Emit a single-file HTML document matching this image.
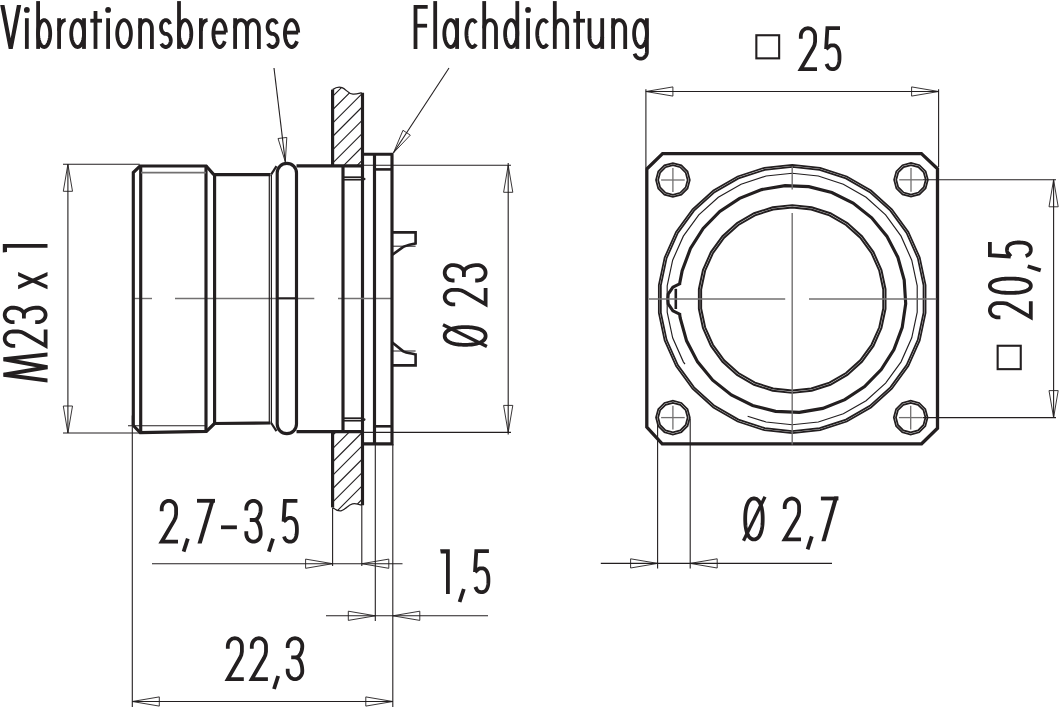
<!DOCTYPE html>
<html><head><meta charset="utf-8"><title>drawing</title>
<style>html,body{margin:0;padding:0;background:#fff;}body{width:1059px;height:707px;overflow:hidden;font-family:"Liberation Sans",sans-serif;}svg{display:block;}</style>
</head><body>
<svg width="1059" height="707" viewBox="0 0 1059 707" role="img" aria-labelledby="t d">
<title id="t">Technical drawing: M23 panel-mount connector</title>
<desc id="d">Vibrationsbremse; Flachdichtung; M23 x 1; Ø 23; 2,7-3,5; 1,5; 22,3; □ 25; □ 20,5; Ø 2,7</desc>
<rect width="1059" height="707" fill="#fff"/>
<defs><clipPath id="pt"><path d="M332.6,89.6 C336,87.2 339,86.6 342,87.6 C346,89 348,93.8 353,94.2 C357,94.4 359.5,93.2 361.6,92.7 L361.6,165.5 L332.6,165.5 Z"/></clipPath><clipPath id="pb"><path d="M332.6,431.8 L361.6,431.8 L361.6,505.2 C359,504.2 356,503 352.5,503.8 C348,504.8 345,510.2 341,510.8 C337.5,511.2 335,509.5 332.6,507.4 Z"/></clipPath></defs>
<g clip-path="url(#pt)"><path d="M320,42.3 L375,-12.7 M320,55.65 L375,0.65 M320,69 L375,14 M320,82.35 L375,27.35 M320,95.7 L375,40.7 M320,109.05 L375,54.05 M320,122.4 L375,67.4 M320,135.75 L375,80.75 M320,149.1 L375,94.1 M320,162.45 L375,107.45 M320,175.8 L375,120.8 M320,189.15 L375,134.15 M320,202.5 L375,147.5 M320,215.85 L375,160.85 M320,229.2 L375,174.2 M320,242.55 L375,187.55 M320,255.9 L375,200.9 M320,269.25 L375,214.25 M320,282.6 L375,227.6 M320,295.95 L375,240.95 M320,309.3 L375,254.3 M320,322.65 L375,267.65 M320,336 L375,281 M320,349.35 L375,294.35 M320,362.7 L375,307.7 M320,376.05 L375,321.05 M320,389.4 L375,334.4 M320,402.75 L375,347.75 M320,416.1 L375,361.1 M320,429.45 L375,374.45 M320,442.8 L375,387.8 M320,456.15 L375,401.15 M320,469.5 L375,414.5 M320,482.85 L375,427.85 M320,496.2 L375,441.2 M320,509.55 L375,454.55 M320,522.9 L375,467.9 M320,536.25 L375,481.25 M320,549.6 L375,494.6 M320,562.95 L375,507.95 M320,576.3 L375,521.3 M320,589.65 L375,534.65 M320,603 L375,548 M320,616.35 L375,561.35 M320,629.7 L375,574.7 M320,643.05 L375,588.05" stroke="#231f20" stroke-width="1.1" fill="none"/></g>
<g clip-path="url(#pb)"><path d="M320,60.8 L375,5.8 M320,74.15 L375,19.15 M320,87.5 L375,32.5 M320,100.85 L375,45.85 M320,114.2 L375,59.2 M320,127.55 L375,72.55 M320,140.9 L375,85.9 M320,154.25 L375,99.25 M320,167.6 L375,112.6 M320,180.95 L375,125.95 M320,194.3 L375,139.3 M320,207.65 L375,152.65 M320,221 L375,166 M320,234.35 L375,179.35 M320,247.7 L375,192.7 M320,261.05 L375,206.05 M320,274.4 L375,219.4 M320,287.75 L375,232.75 M320,301.1 L375,246.1 M320,314.45 L375,259.45 M320,327.8 L375,272.8 M320,341.15 L375,286.15 M320,354.5 L375,299.5 M320,367.85 L375,312.85 M320,381.2 L375,326.2 M320,394.55 L375,339.55 M320,407.9 L375,352.9 M320,421.25 L375,366.25 M320,434.6 L375,379.6 M320,447.95 L375,392.95 M320,461.3 L375,406.3 M320,474.65 L375,419.65 M320,488 L375,433 M320,501.35 L375,446.35 M320,514.7 L375,459.7 M320,528.05 L375,473.05 M320,541.4 L375,486.4 M320,554.75 L375,499.75 M320,568.1 L375,513.1 M320,581.45 L375,526.45 M320,594.8 L375,539.8 M320,608.15 L375,553.15 M320,621.5 L375,566.5 M320,634.85 L375,579.85 M320,648.2 L375,593.2 M320,661.55 L375,606.55 M320,674.9 L375,619.9 M320,688.25 L375,633.25 M320,701.6 L375,646.6 M320,714.95 L375,659.95 M320,728.3 L375,673.3 M320,741.65 L375,686.65 M320,755 L375,700 M320,768.35 L375,713.35 M320,781.7 L375,726.7 M320,795.05 L375,740.05 M320,808.4 L375,753.4 M320,821.75 L375,766.75 M320,835.1 L375,780.1 M320,848.45 L375,793.45" stroke="#231f20" stroke-width="1.1" fill="none"/></g>
<path d="M332.6,89.6 C336,87.2 339,86.6 342,87.6 C346,89 348,93.8 353,94.2 C357,94.4 359.5,93.2 361.6,92.7" stroke="#231f20" stroke-width="1.3" fill="none"/>
<path d="M332.6,507.4 C335,509.5 337.5,511.2 341,510.8 C345,510.2 348,504.8 352.5,503.8 C356,503 359,504.2 361.6,505.2" stroke="#231f20" stroke-width="1.3" fill="none"/>
<line x1="332.6" y1="89.6" x2="332.6" y2="165.5" stroke="#231f20" stroke-width="3.15"/>
<line x1="332.6" y1="431.8" x2="332.6" y2="507.4" stroke="#231f20" stroke-width="3.15"/>
<line x1="362.5" y1="92.7" x2="362.5" y2="505.2" stroke="#231f20" stroke-width="3.15"/>
<line x1="133" y1="298.5" x2="152" y2="298.5" stroke="#727070" stroke-width="1.4"/>
<line x1="175" y1="298.5" x2="314.3" y2="298.5" stroke="#727070" stroke-width="1.4"/>
<line x1="338" y1="298.5" x2="391" y2="298.5" stroke="#727070" stroke-width="1.4"/>
<path d="M133.3,425.5 L133.3,172.5 L140,166 L206.2,166 L213.8,174.6" stroke="#231f20" stroke-width="3.15" fill="none"/>
<path d="M133.3,425.5 L140.2,432.6 L206.4,431.4 L214.5,423.5" stroke="#231f20" stroke-width="3.15" fill="none"/>
<line x1="140.7" y1="165.6" x2="140.7" y2="432.4" stroke="#231f20" stroke-width="3.15"/>
<line x1="206" y1="165.6" x2="206" y2="431.4" stroke="#231f20" stroke-width="3.15"/>
<line x1="141" y1="172.7" x2="206" y2="172.7" stroke="#727070" stroke-width="1.8"/>
<line x1="128" y1="425.8" x2="206" y2="425.8" stroke="#231f20" stroke-width="1.1"/>
<line x1="214.6" y1="174.4" x2="214.6" y2="423.5" stroke="#231f20" stroke-width="3.15"/>
<line x1="213.5" y1="174.6" x2="270.5" y2="174.6" stroke="#231f20" stroke-width="3.15"/>
<line x1="213.5" y1="423.5" x2="270.5" y2="423" stroke="#231f20" stroke-width="3.15"/>
<line x1="269.3" y1="174.4" x2="269.3" y2="423.2" stroke="#231f20" stroke-width="1.2"/>
<line x1="271.4" y1="174.4" x2="271.4" y2="423.2" stroke="#231f20" stroke-width="1.2"/>
<path d="M271.2,174.4 L276.5,166.2" stroke="#231f20" stroke-width="2.2" fill="none"/>
<path d="M271.2,423.0 L276.5,431.2" stroke="#231f20" stroke-width="2.2" fill="none"/>
<path d="M277.2,424 L277.2,173 A9.65,9.65 0 0 1 296.5,173 L296.5,424 A9.65,9.65 0 0 1 277.2,424 Z" stroke="#231f20" stroke-width="3.15" fill="none"/>
<line x1="277.2" y1="298.3" x2="296.5" y2="298.3" stroke="#231f20" stroke-width="2"/>
<line x1="296.5" y1="165.9" x2="363" y2="165.9" stroke="#231f20" stroke-width="3.15"/>
<line x1="296.5" y1="431.6" x2="363" y2="431.6" stroke="#231f20" stroke-width="3.15"/>
<line x1="343" y1="165.6" x2="343" y2="431.6" stroke="#231f20" stroke-width="3.15"/>
<line x1="343" y1="177.2" x2="362.5" y2="177.2" stroke="#231f20" stroke-width="1.7"/>
<line x1="343" y1="179.7" x2="362.5" y2="179.7" stroke="#231f20" stroke-width="1.7"/>
<line x1="343" y1="418.2" x2="362.5" y2="418.2" stroke="#231f20" stroke-width="1.7"/>
<line x1="343" y1="420.7" x2="362.5" y2="420.7" stroke="#231f20" stroke-width="1.7"/>
<circle cx="364.2" cy="179" r="1.3" stroke="#231f20" stroke-width="0" fill="#231f20"/>
<circle cx="364.2" cy="419.6" r="1.3" stroke="#231f20" stroke-width="0" fill="#231f20"/>
<path d="M363.5,154.2 L392,154.2 L392,443.8 L363.5,443.8" stroke="#231f20" stroke-width="3.15" fill="none"/>
<line x1="374.5" y1="154.2" x2="374.5" y2="443.8" stroke="#231f20" stroke-width="3.15"/>
<line x1="374.5" y1="169.4" x2="392" y2="169.4" stroke="#231f20" stroke-width="2.6"/>
<line x1="374.5" y1="426.3" x2="392" y2="426.3" stroke="#231f20" stroke-width="2.6"/>
<path d="M392,232.4 L415.6,232.4 L415.6,243.5 C410,244.8 406,245.5 402.9,247.2 L392,255" stroke="#231f20" stroke-width="2.6" fill="none"/>
<line x1="392" y1="246.2" x2="415.6" y2="246.2" stroke="#231f20" stroke-width="1"/>
<path d="M392,365.4 L415.6,365.4 L415.6,354.4 C410,353.2 406,352.8 403.3,351.3 L392,342.3" stroke="#231f20" stroke-width="2.6" fill="none"/>
<line x1="392" y1="351" x2="415.6" y2="351" stroke="#231f20" stroke-width="1"/>
<line x1="63" y1="164.3" x2="139.7" y2="164.3" stroke="#231f20" stroke-width="1.1"/>
<line x1="63" y1="433" x2="139.5" y2="433" stroke="#231f20" stroke-width="1.1"/>
<line x1="67.9" y1="164.3" x2="67.9" y2="433" stroke="#231f20" stroke-width="1.1"/>
<path d="M67.9,164.3 L72.5,191.3 L63.3,191.3Z" stroke="#231f20" stroke-width="0.9" fill="none" stroke-linejoin="miter"/>
<path d="M67.9,433 L63.3,406 L72.5,406Z" stroke="#231f20" stroke-width="0.9" fill="none" stroke-linejoin="miter"/>
<line x1="363" y1="165.3" x2="511" y2="165.3" stroke="#231f20" stroke-width="1.1"/>
<line x1="363" y1="432.4" x2="511" y2="432.4" stroke="#231f20" stroke-width="1.1"/>
<line x1="508.2" y1="163" x2="508.2" y2="434.5" stroke="#231f20" stroke-width="1.1"/>
<path d="M508.2,165.3 L512.8,192.3 L503.6,192.3Z" stroke="#231f20" stroke-width="0.9" fill="none" stroke-linejoin="miter"/>
<path d="M508.2,432.4 L503.6,405.4 L512.8,405.4Z" stroke="#231f20" stroke-width="0.9" fill="none" stroke-linejoin="miter"/>
<line x1="132.3" y1="415.5" x2="132.3" y2="707" stroke="#231f20" stroke-width="1.1"/>
<line x1="332.6" y1="508" x2="332.6" y2="566" stroke="#231f20" stroke-width="1.1"/>
<line x1="361.8" y1="505" x2="361.8" y2="566" stroke="#231f20" stroke-width="1.1"/>
<line x1="375.3" y1="444" x2="375.3" y2="621" stroke="#231f20" stroke-width="1.1"/>
<line x1="392.8" y1="444" x2="392.8" y2="707" stroke="#231f20" stroke-width="1.1"/>
<line x1="152" y1="563.7" x2="402.5" y2="563.7" stroke="#231f20" stroke-width="1.1"/>
<path d="M332.6,563.7 L305.6,568.3 L305.6,559.1Z" stroke="#231f20" stroke-width="0.9" fill="none" stroke-linejoin="miter"/>
<path d="M361.8,563.7 L388.8,559.1 L388.8,568.3Z" stroke="#231f20" stroke-width="0.9" fill="none" stroke-linejoin="miter"/>
<line x1="326" y1="615.8" x2="488" y2="615.8" stroke="#231f20" stroke-width="1.1"/>
<path d="M375.3,615.8 L348.3,620.4 L348.3,611.2Z" stroke="#231f20" stroke-width="0.9" fill="none" stroke-linejoin="miter"/>
<path d="M392.8,615.8 L419.8,611.2 L419.8,620.4Z" stroke="#231f20" stroke-width="0.9" fill="none" stroke-linejoin="miter"/>
<line x1="132.3" y1="701.5" x2="392.8" y2="701.5" stroke="#231f20" stroke-width="1.1"/>
<path d="M132.3,701.5 L159.3,696.9 L159.3,706.1Z" stroke="#231f20" stroke-width="0.9" fill="none" stroke-linejoin="miter"/>
<path d="M392.8,701.5 L365.8,706.1 L365.8,696.9Z" stroke="#231f20" stroke-width="0.9" fill="none" stroke-linejoin="miter"/>
<line x1="274" y1="68" x2="285.3" y2="161.8" stroke="#231f20" stroke-width="1.1"/>
<path d="M285.3,161.8 L278.06,138.5 L286.8,137.45Z" stroke="#231f20" stroke-width="0.9" fill="none" stroke-linejoin="miter"/>
<line x1="449" y1="68" x2="393.5" y2="152.8" stroke="#231f20" stroke-width="1.1"/>
<path d="M393.5,152.8 L402.96,130.31 L410.32,135.13Z" stroke="#231f20" stroke-width="0.9" fill="none" stroke-linejoin="miter"/>
<path d="M646.8,169 L662.6,153.6 L921.4,153.6 L937.5,168.7 L937.5,428.2 L921.6,443.8 L662.2,443.8 L646.8,427.2 Z" stroke="#231f20" stroke-width="3.3" fill="none"/>
<path d="M792.2,164.9 L820.08,167.83 L846.74,176.49 L871.02,190.51 L891.86,209.27 L908.33,231.95 L919.74,257.56 L925.57,284.98 L925.57,313.02 L919.74,340.44 L908.33,366.05 L891.86,388.73 L871.02,407.49 L846.74,421.51 L820.08,430.17 L792.2,433.1 L764.32,430.17 L737.66,421.51 L713.38,407.49 L692.54,388.73 L676.07,366.05 L664.66,340.44 L658.83,313.02 L658.83,284.98 L664.66,257.56 L676.07,231.95 L692.54,209.27 L713.38,190.51 L737.66,176.49 L764.32,167.83Z" stroke="#231f20" stroke-width="1.75" fill="none"/>
<path d="M792.2,166.95 L819.65,169.84 L845.91,178.37 L869.82,192.17 L890.33,210.64 L906.56,232.98 L917.79,258.19 L923.53,285.2 L923.53,312.8 L917.79,339.81 L906.56,365.02 L890.33,387.36 L869.82,405.83 L845.91,419.63 L819.65,428.16 L792.2,431.05 L764.75,428.16 L738.49,419.63 L714.58,405.83 L694.07,387.36 L677.84,365.02 L666.61,339.81 L660.87,312.8 L660.87,285.2 L666.61,258.19 L677.84,232.97 L694.07,210.64 L714.58,192.17 L738.49,178.37 L764.75,169.84Z" stroke="#231f20" stroke-width="1.75" fill="none"/>
<path d="M684.97,364.2 L683.34,361.85 L672.65,337.84 L667.19,312.14 L667.19,285.86 L672.65,260.16 L683.34,236.15 L698.79,214.89 L718.32,197.31 L741.07,184.17 L766.07,176.05 L792.2,173.3 L818.33,176.05 L843.33,184.17 L866.08,197.31 L885.61,214.89 L901.06,236.15 L911.75,260.16 L917.21,285.86 L917.21,312.14 L911.75,337.84 L901.06,361.85 L885.61,383.11 L866.08,400.69 L843.33,413.83 L818.33,421.95 L792.2,424.7 L766.07,421.95 L747.63,416.32" stroke="#231f20" stroke-width="1.15" fill="none"/>
<path d="M679.71,283.19 L682.17,270.75 L690.45,248.49 L703.17,228.44 L719.79,211.47 L739.57,198.33 L761.65,189.58 L785.07,185.62 L808.8,186.62 L831.8,192.52 L853.07,203.08 L871.68,217.84 L886.82,236.13 L897.82,257.18 L904.21,280.06 L905.7,303.76 L902.23,327.25 L893.95,349.51 L881.23,369.56 L864.61,386.53 L844.83,399.67 L822.75,408.42 L799.33,412.38 L775.6,411.38 L752.6,405.48 L731.33,394.92 L712.72,380.16 L697.58,361.87 L686.58,340.82 L680.19,317.94 L679.71,314.81 L679.7,314.2 L672.9,310.8 L668.2,304 L667.8,299 L668.2,294 L672.9,287.2 L679.7,283.8Z" stroke="#231f20" stroke-width="3.15" fill="none"/>
<line x1="675.8" y1="288.8" x2="675.8" y2="309" stroke="#231f20" stroke-width="2.6"/>
<path d="M792.2,205.15 L811.71,207.2 L830.37,213.26 L847.36,223.07 L861.94,236.2 L873.48,252.08 L881.46,270 L885.54,289.19 L885.54,308.81 L881.46,328 L873.48,345.93 L861.94,361.8 L847.36,374.93 L830.37,384.74 L811.71,390.8 L792.2,392.85 L772.69,390.8 L754.03,384.74 L737.04,374.93 L722.46,361.8 L710.92,345.93 L702.94,328 L698.86,308.81 L698.86,289.19 L702.94,270 L710.92,252.07 L722.46,236.2 L737.04,223.07 L754.03,213.26 L772.69,207.2Z" stroke="#231f20" stroke-width="1.95" fill="none"/>
<path d="M792.2,207.45 L811.23,209.45 L829.44,215.36 L846.01,224.93 L860.23,237.74 L871.48,253.23 L879.27,270.71 L883.25,289.43 L883.25,308.57 L879.27,327.29 L871.48,344.77 L860.23,360.26 L846.01,373.07 L829.44,382.64 L811.23,388.55 L792.2,390.55 L773.17,388.55 L754.96,382.64 L738.39,373.07 L724.17,360.26 L712.92,344.77 L705.13,327.29 L701.15,308.57 L701.15,289.43 L705.13,270.71 L712.92,253.22 L724.17,237.74 L738.39,224.93 L754.96,215.36 L773.17,209.45Z" stroke="#231f20" stroke-width="1.95" fill="none"/>
<path d="M689.8,180 L687.54,188.45 L681.35,194.64 L672.9,196.9 L664.45,194.64 L658.26,188.45 L656,180 L658.26,171.55 L664.45,165.36 L672.9,163.1 L681.35,165.36 L687.54,171.55Z" stroke="#231f20" stroke-width="1.75" fill="none"/>
<path d="M687.65,180 L685.67,187.38 L680.27,192.77 L672.9,194.75 L665.52,192.77 L660.13,187.38 L658.15,180 L660.13,172.62 L665.52,167.23 L672.9,165.25 L680.27,167.23 L685.67,172.62Z" stroke="#231f20" stroke-width="1.75" fill="none"/>
<line x1="661.1" y1="180" x2="684.7" y2="180" stroke="#727070" stroke-width="1.3"/>
<line x1="672.9" y1="168.1" x2="672.9" y2="191.9" stroke="#727070" stroke-width="1.3"/>
<path d="M927.9,179.8 L925.64,188.25 L919.45,194.44 L911,196.7 L902.55,194.44 L896.36,188.25 L894.1,179.8 L896.36,171.35 L902.55,165.16 L911,162.9 L919.45,165.16 L925.64,171.35Z" stroke="#231f20" stroke-width="1.75" fill="none"/>
<path d="M925.75,179.8 L923.77,187.18 L918.38,192.57 L911,194.55 L903.62,192.57 L898.23,187.18 L896.25,179.8 L898.23,172.43 L903.62,167.03 L911,165.05 L918.38,167.03 L923.77,172.43Z" stroke="#231f20" stroke-width="1.75" fill="none"/>
<line x1="899.2" y1="179.8" x2="922.8" y2="179.8" stroke="#727070" stroke-width="1.3"/>
<line x1="911" y1="167.9" x2="911" y2="191.7" stroke="#727070" stroke-width="1.3"/>
<path d="M689.8,417.6 L687.54,426.05 L681.35,432.24 L672.9,434.5 L664.45,432.24 L658.26,426.05 L656,417.6 L658.26,409.15 L664.45,402.96 L672.9,400.7 L681.35,402.96 L687.54,409.15Z" stroke="#231f20" stroke-width="1.75" fill="none"/>
<path d="M687.65,417.6 L685.67,424.98 L680.27,430.37 L672.9,432.35 L665.52,430.37 L660.13,424.98 L658.15,417.6 L660.13,410.23 L665.52,404.83 L672.9,402.85 L680.27,404.83 L685.67,410.23Z" stroke="#231f20" stroke-width="1.75" fill="none"/>
<line x1="661.1" y1="417.6" x2="684.7" y2="417.6" stroke="#727070" stroke-width="1.3"/>
<line x1="672.9" y1="405.7" x2="672.9" y2="429.5" stroke="#727070" stroke-width="1.3"/>
<path d="M927.6,417.6 L925.34,426.05 L919.15,432.24 L910.7,434.5 L902.25,432.24 L896.06,426.05 L893.8,417.6 L896.06,409.15 L902.25,402.96 L910.7,400.7 L919.15,402.96 L925.34,409.15Z" stroke="#231f20" stroke-width="1.75" fill="none"/>
<path d="M925.45,417.6 L923.47,424.98 L918.08,430.37 L910.7,432.35 L903.33,430.37 L897.93,424.98 L895.95,417.6 L897.93,410.23 L903.33,404.83 L910.7,402.85 L918.08,404.83 L923.47,410.23Z" stroke="#231f20" stroke-width="1.75" fill="none"/>
<line x1="898.9" y1="417.6" x2="922.5" y2="417.6" stroke="#727070" stroke-width="1.3"/>
<line x1="910.7" y1="405.7" x2="910.7" y2="429.5" stroke="#727070" stroke-width="1.3"/>
<line x1="649" y1="299" x2="785.2" y2="299" stroke="#727070" stroke-width="1.4"/>
<line x1="809" y1="299" x2="936.4" y2="299" stroke="#727070" stroke-width="1.4"/>
<line x1="792.2" y1="166.3" x2="792.2" y2="189.6" stroke="#727070" stroke-width="1.4"/>
<line x1="792.2" y1="212.9" x2="792.2" y2="444.4" stroke="#727070" stroke-width="1.4"/>
<line x1="645.9" y1="89.3" x2="645.9" y2="168" stroke="#231f20" stroke-width="1.1"/>
<line x1="938.6" y1="89.3" x2="938.6" y2="167" stroke="#231f20" stroke-width="1.1"/>
<line x1="645.9" y1="91.5" x2="938.6" y2="91.5" stroke="#231f20" stroke-width="1.1"/>
<path d="M645.9,91.5 L672.9,86.9 L672.9,96.1Z" stroke="#231f20" stroke-width="0.9" fill="none" stroke-linejoin="miter"/>
<path d="M938.6,91.5 L911.6,96.1 L911.6,86.9Z" stroke="#231f20" stroke-width="0.9" fill="none" stroke-linejoin="miter"/>
<line x1="922.8" y1="179.8" x2="1056" y2="179.8" stroke="#231f20" stroke-width="1.1"/>
<line x1="922.7" y1="417.6" x2="1056" y2="417.6" stroke="#231f20" stroke-width="1.1"/>
<line x1="1053.6" y1="179.8" x2="1053.6" y2="417.6" stroke="#231f20" stroke-width="1.1"/>
<path d="M1053.6,179.8 L1058.2,206.8 L1049,206.8Z" stroke="#231f20" stroke-width="0.9" fill="none" stroke-linejoin="miter"/>
<path d="M1053.6,417.6 L1049,390.6 L1058.2,390.6Z" stroke="#231f20" stroke-width="0.9" fill="none" stroke-linejoin="miter"/>
<line x1="657.6" y1="422" x2="657.6" y2="568.5" stroke="#231f20" stroke-width="1.1"/>
<line x1="690.2" y1="418.5" x2="690.2" y2="568.5" stroke="#231f20" stroke-width="1.1"/>
<line x1="600.8" y1="563.4" x2="832" y2="563.4" stroke="#231f20" stroke-width="1.1"/>
<path d="M657.6,563.4 L630.6,568 L630.6,558.8Z" stroke="#231f20" stroke-width="0.9" fill="none" stroke-linejoin="miter"/>
<path d="M690.2,563.4 L717.2,558.8 L717.2,568Z" stroke="#231f20" stroke-width="0.9" fill="none" stroke-linejoin="miter"/>
<g transform="translate(0,48.9)" fill="none" stroke="#231f20" stroke-width="3.8" stroke-linecap="butt" stroke-linejoin="miter" stroke-miterlimit="6"><path d="M26.85,-30.7 L26.85,0"/><path d="M38.1,-47.8 L38.1,0"/><path d="M50.2,-15.35 L50.17,-13.94 L50.07,-12.55 L49.9,-11.19 L49.68,-9.88 L49.39,-8.62 L49.04,-7.44 L48.65,-6.35 L48.2,-5.35 L47.71,-4.47 L47.18,-3.7 L46.61,-3.06 L46.02,-2.56 L45.41,-2.19 L44.78,-1.97 L44.15,-1.9 L43.52,-1.97 L42.89,-2.19 L42.28,-2.56 L41.69,-3.06 L41.13,-3.7 L40.59,-4.47 L40.1,-5.35 L39.65,-6.35 L39.26,-7.44 L38.91,-8.62 L38.62,-9.88 L38.4,-11.19 L38.23,-12.55 L38.13,-13.94 L38.1,-15.35 L38.13,-16.76 L38.23,-18.15 L38.4,-19.51 L38.62,-20.82 L38.91,-22.08 L39.26,-23.26 L39.65,-24.35 L40.1,-25.35 L40.59,-26.23 L41.12,-27 L41.69,-27.64 L42.28,-28.14 L42.89,-28.51 L43.52,-28.73 L44.15,-28.8 L44.78,-28.73 L45.41,-28.51 L46.02,-28.14 L46.61,-27.64 L47.18,-27 L47.71,-26.23 L48.2,-25.35 L48.65,-24.35 L49.04,-23.26 L49.39,-22.08 L49.68,-20.82 L49.9,-19.51 L50.07,-18.15 L50.17,-16.76 L50.2,-15.35Z"/><path d="M59.1,-30.7 L59.1,0"/><path d="M59.1,-18 L59.12,-18.85 L59.18,-19.69 L59.28,-20.52 L59.42,-21.34 L59.6,-22.13 L59.82,-22.9 L60.07,-23.64 L60.36,-24.35 L60.68,-25.01 L61.03,-25.64 L61.41,-26.21 L61.82,-26.74 L62.25,-27.21 L62.7,-27.62 L63.17,-27.98 L63.66,-28.27 L64.16,-28.5 L64.67,-28.67 L65.18,-28.77 L65.7,-28.8"/><path d="M84,-30.7 L84,0"/><path d="M84,-15.35 L83.96,-13.94 L83.86,-12.55 L83.69,-11.19 L83.45,-9.88 L83.14,-8.62 L82.78,-7.44 L82.36,-6.35 L81.88,-5.35 L81.36,-4.47 L80.8,-3.7 L80.2,-3.06 L79.58,-2.56 L78.93,-2.19 L78.27,-1.97 L77.6,-1.9 L76.93,-1.97 L76.27,-2.19 L75.62,-2.56 L75,-3.06 L74.4,-3.7 L73.84,-4.47 L73.32,-5.35 L72.84,-6.35 L72.42,-7.44 L72.06,-8.62 L71.75,-9.88 L71.51,-11.19 L71.34,-12.55 L71.24,-13.94 L71.2,-15.35 L71.24,-16.76 L71.34,-18.15 L71.51,-19.51 L71.75,-20.82 L72.06,-22.08 L72.42,-23.26 L72.84,-24.35 L73.32,-25.35 L73.84,-26.23 L74.4,-27 L75,-27.64 L75.62,-28.14 L76.27,-28.51 L76.93,-28.73 L77.6,-28.8 L78.27,-28.73 L78.93,-28.51 L79.58,-28.14 L80.2,-27.64 L80.8,-27 L81.36,-26.23 L81.88,-25.35 L82.36,-24.35 L82.78,-23.26 L83.14,-22.08 L83.45,-20.82 L83.69,-19.51 L83.86,-18.15 L83.96,-16.76 L84,-15.35Z"/><path d="M95.5,-37.9 L95.5,0"/><path d="M90.3,-28.2 L102,-28.2"/><path d="M108.1,-30.7 L108.1,0"/><path d="M130.9,-15.35 L130.86,-13.94 L130.75,-12.55 L130.56,-11.19 L130.31,-9.88 L129.98,-8.62 L129.59,-7.44 L129.14,-6.35 L128.63,-5.35 L128.08,-4.47 L127.48,-3.7 L126.84,-3.06 L126.17,-2.56 L125.47,-2.19 L124.77,-1.97 L124.05,-1.9 L123.33,-1.97 L122.63,-2.19 L121.93,-2.56 L121.26,-3.06 L120.63,-3.7 L120.02,-4.47 L119.47,-5.35 L118.96,-6.35 L118.51,-7.44 L118.12,-8.62 L117.79,-9.88 L117.54,-11.19 L117.35,-12.55 L117.24,-13.94 L117.2,-15.35 L117.24,-16.76 L117.35,-18.15 L117.54,-19.51 L117.79,-20.82 L118.12,-22.08 L118.51,-23.26 L118.96,-24.35 L119.47,-25.35 L120.02,-26.23 L120.62,-27 L121.26,-27.64 L121.93,-28.14 L122.63,-28.51 L123.33,-28.73 L124.05,-28.8 L124.77,-28.73 L125.47,-28.51 L126.17,-28.14 L126.84,-27.64 L127.48,-27 L128.08,-26.23 L128.63,-25.35 L129.14,-24.35 L129.59,-23.26 L129.98,-22.08 L130.31,-20.82 L130.56,-19.51 L130.75,-18.15 L130.86,-16.76 L130.9,-15.35Z"/><path d="M140.1,-30.7 L140.1,0"/><path d="M140.1,-20.5 L140.13,-21.37 L140.23,-22.23 L140.39,-23.06 L140.61,-23.88 L140.89,-24.65 L141.23,-25.38 L141.62,-26.05 L142.05,-26.67 L142.53,-27.21 L143.05,-27.69 L143.6,-28.08 L144.18,-28.39 L144.77,-28.62 L145.38,-28.75 L146,-28.8 L146.62,-28.75 L147.23,-28.62 L147.82,-28.39 L148.4,-28.08 L148.95,-27.69 L149.47,-27.21 L149.95,-26.67 L150.38,-26.05 L150.77,-25.38 L151.11,-24.65 L151.39,-23.88 L151.61,-23.06 L151.77,-22.23 L151.87,-21.37 L151.9,-20.5 L151.9,0"/><path d="M170.05,-24.82 L169.73,-25.67 L169.32,-26.46 L168.83,-27.15 L168.29,-27.73 L167.69,-28.2 L167.06,-28.53 L166.4,-28.74 L165.72,-28.8 L165.05,-28.72 L164.39,-28.51 L163.76,-28.16 L163.16,-27.69 L162.62,-27.09 L162.15,-26.4 L161.74,-25.61 L161.42,-24.74 L161.19,-23.82 L161.05,-22.86 L161,-21.88 L161.05,-20.9 L161.2,-19.94 L161.43,-19.02 L161.76,-18.16 L162.17,-17.37 L162.64,-16.68 L163.19,-16.09 L163.78,-15.62 L164.41,-15.28 L165.08,-15.07 L165.75,-15 L166.45,-14.94 L167.14,-14.75 L167.8,-14.43 L168.43,-14 L169,-13.47 L169.5,-12.83 L169.94,-12.11 L170.29,-11.32 L170.55,-10.47 L170.72,-9.59 L170.8,-8.68 L170.77,-7.77 L170.65,-6.87 L170.43,-6 L170.12,-5.18 L169.73,-4.42 L169.26,-3.74 L168.72,-3.15 L168.12,-2.67 L167.48,-2.3 L166.8,-2.04 L166.1,-1.92 L165.4,-1.92 L164.7,-2.04 L164.02,-2.3 L163.38,-2.67 L162.78,-3.15 L162.24,-3.74 L161.77,-4.42 L161.38,-5.18"/><path d="M179,-47.8 L179,0"/><path d="M191.3,-15.35 L191.27,-13.94 L191.17,-12.55 L191,-11.19 L190.77,-9.88 L190.48,-8.62 L190.13,-7.44 L189.72,-6.35 L189.27,-5.35 L188.76,-4.47 L188.22,-3.7 L187.65,-3.06 L187.05,-2.56 L186.43,-2.19 L185.79,-1.97 L185.15,-1.9 L184.51,-1.97 L183.87,-2.19 L183.25,-2.56 L182.65,-3.06 L182.07,-3.7 L181.54,-4.47 L181.03,-5.35 L180.58,-6.35 L180.17,-7.44 L179.82,-8.62 L179.53,-9.88 L179.3,-11.19 L179.13,-12.55 L179.03,-13.94 L179,-15.35 L179.03,-16.76 L179.13,-18.15 L179.3,-19.51 L179.53,-20.82 L179.82,-22.08 L180.17,-23.26 L180.58,-24.35 L181.03,-25.35 L181.54,-26.23 L182.07,-27 L182.65,-27.64 L183.25,-28.14 L183.87,-28.51 L184.51,-28.73 L185.15,-28.8 L185.79,-28.73 L186.43,-28.51 L187.05,-28.14 L187.65,-27.64 L188.22,-27 L188.76,-26.23 L189.27,-25.35 L189.72,-24.35 L190.13,-23.26 L190.48,-22.08 L190.77,-20.82 L191,-19.51 L191.17,-18.15 L191.27,-16.76 L191.3,-15.35Z"/><path d="M200.9,-30.7 L200.9,0"/><path d="M200.9,-18 L200.92,-18.85 L200.98,-19.69 L201.09,-20.52 L201.23,-21.34 L201.41,-22.13 L201.63,-22.9 L201.89,-23.64 L202.18,-24.35 L202.51,-25.01 L202.86,-25.64 L203.25,-26.21 L203.66,-26.74 L204.1,-27.21 L204.56,-27.62 L205.04,-27.98 L205.53,-28.27 L206.04,-28.5 L206.55,-28.67 L207.07,-28.77 L207.6,-28.8"/><path d="M225.88,-16.3 L225.81,-17.64 L225.67,-18.95 L225.48,-20.22 L225.22,-21.45 L224.91,-22.62 L224.55,-23.71 L224.13,-24.72 L223.68,-25.64 L223.18,-26.45 L222.65,-27.15 L222.08,-27.74 L221.5,-28.2 L220.89,-28.53 L220.27,-28.73 L219.65,-28.8 L219.02,-28.73 L218.41,-28.53 L217.8,-28.2 L217.21,-27.74 L216.65,-27.15 L216.12,-26.45 L215.62,-25.63 L215.16,-24.72 L214.75,-23.7 L214.39,-22.61 L214.08,-21.44 L213.82,-20.22 L213.63,-18.94 L213.49,-17.63 L213.42,-16.29 L213.4,-14.95 L213.45,-13.61 L213.56,-12.28 L213.74,-10.99 L213.97,-9.74 L214.26,-8.55 L214.6,-7.42 L214.99,-6.38 L215.43,-5.42 L215.91,-4.57 L216.43,-3.82 L216.99,-3.18 L217.56,-2.67 L218.16,-2.29 L218.78,-2.03 L219.4,-1.91 L220.02,-1.92 L220.64,-2.07 L221.26,-2.35 L221.85,-2.76 L222.42,-3.3 L222.97,-3.95 L223.48,-4.72 L223.96,-5.6 L224.39,-6.57 L224.77,-7.64"/><path d="M213.4,-16.3 L225.88,-16.3"/><path d="M235.1,-30.7 L235.1,0"/><path d="M235.1,-20.5 L235.13,-21.37 L235.23,-22.23 L235.39,-23.06 L235.61,-23.88 L235.9,-24.65 L236.24,-25.38 L236.63,-26.05 L237.07,-26.67 L237.55,-27.21 L238.08,-27.69 L238.63,-28.08 L239.21,-28.39 L239.81,-28.62 L240.43,-28.75 L241.05,-28.8 L241.67,-28.75 L242.29,-28.62 L242.89,-28.39 L243.47,-28.08 L244.03,-27.69 L244.55,-27.21 L245.03,-26.67 L245.47,-26.05 L245.86,-25.38 L246.2,-24.65 L246.49,-23.88 L246.71,-23.06 L246.87,-22.23 L246.97,-21.37 L247,-20.5 L247,0"/><path d="M247,-20.5 L247.03,-21.37 L247.13,-22.23 L247.29,-23.06 L247.51,-23.88 L247.8,-24.65 L248.14,-25.38 L248.53,-26.05 L248.97,-26.67 L249.45,-27.21 L249.97,-27.69 L250.53,-28.08 L251.11,-28.39 L251.71,-28.62 L252.33,-28.75 L252.95,-28.8 L253.57,-28.75 L254.19,-28.62 L254.79,-28.39 L255.37,-28.08 L255.93,-27.69 L256.45,-27.21 L256.93,-26.67 L257.37,-26.05 L257.76,-25.38 L258.1,-24.65 L258.39,-23.88 L258.61,-23.06 L258.77,-22.23 L258.87,-21.37 L258.9,-20.5 L258.9,0"/><path d="M276.94,-24.82 L276.6,-25.67 L276.18,-26.46 L275.68,-27.15 L275.12,-27.73 L274.51,-28.2 L273.85,-28.53 L273.17,-28.74 L272.47,-28.8 L271.78,-28.72 L271.09,-28.51 L270.44,-28.16 L269.83,-27.69 L269.27,-27.09 L268.78,-26.4 L268.37,-25.61 L268.04,-24.74 L267.79,-23.82 L267.65,-22.86 L267.6,-21.88 L267.65,-20.9 L267.8,-19.94 L268.05,-19.02 L268.38,-18.16 L268.8,-17.37 L269.3,-16.68 L269.86,-16.09 L270.47,-15.62 L271.12,-15.28 L271.8,-15.07 L272.5,-15 L273.22,-14.94 L273.93,-14.75 L274.62,-14.43 L275.26,-14 L275.84,-13.47 L276.36,-12.83 L276.81,-12.11 L277.17,-11.32 L277.45,-10.47 L277.62,-9.59 L277.7,-8.68 L277.67,-7.77 L277.55,-6.87 L277.32,-6 L277,-5.18 L276.6,-4.42 L276.11,-3.74 L275.56,-3.15 L274.94,-2.67 L274.28,-2.3 L273.58,-2.04 L272.86,-1.92 L272.14,-1.92 L271.42,-2.04 L270.72,-2.3 L270.06,-2.67 L269.44,-3.15 L268.89,-3.74 L268.4,-4.42 L268,-5.18"/><path d="M298.18,-16.3 L298.1,-17.64 L297.96,-18.95 L297.75,-20.22 L297.48,-21.45 L297.15,-22.62 L296.76,-23.71 L296.32,-24.72 L295.83,-25.64 L295.3,-26.45 L294.74,-27.15 L294.14,-27.74 L293.51,-28.2 L292.87,-28.53 L292.21,-28.73 L291.55,-28.8 L290.88,-28.73 L290.23,-28.53 L289.58,-28.2 L288.96,-27.74 L288.36,-27.15 L287.79,-26.45 L287.26,-25.63 L286.78,-24.72 L286.34,-23.7 L285.95,-22.61 L285.62,-21.44 L285.35,-20.22 L285.14,-18.94 L285,-17.63 L284.92,-16.29 L284.9,-14.95 L284.96,-13.61 L285.08,-12.28 L285.26,-10.99 L285.51,-9.74 L285.81,-8.55 L286.18,-7.42 L286.6,-6.38 L287.06,-5.42 L287.58,-4.57 L288.13,-3.82 L288.71,-3.18 L289.33,-2.67 L289.97,-2.29 L290.62,-2.03 L291.28,-1.91 L291.95,-1.92 L292.61,-2.07 L293.26,-2.35 L293.89,-2.76 L294.5,-3.3 L295.08,-3.95 L295.63,-4.72 L296.13,-5.6 L296.59,-6.57 L297,-7.64"/><path d="M284.9,-16.3 L298.18,-16.3"/><path d="M0.2,-44 L8.7,0 L12.7,0 L21.2,-44 L16.9,-44 L10.7,-10.73 L4.5,-44Z" fill="#231f20" stroke="none"/><circle cx="26.85" cy="-39" r="2.9" fill="#231f20" stroke="none"/><circle cx="108.1" cy="-39" r="2.9" fill="#231f20" stroke="none"/></g>
<g transform="translate(0,48.9)" fill="none" stroke="#231f20" stroke-width="3.8" stroke-linecap="butt" stroke-linejoin="miter" stroke-miterlimit="6"><path d="M415.5,0 L415.5,-42.1 L427.7,-42.1"/><path d="M415.5,-23.2 L427.1,-23.2"/><path d="M435.2,-47.8 L435.2,0"/><path d="M457.1,-30.7 L457.1,0"/><path d="M457.1,-15.35 L457.06,-13.94 L456.96,-12.55 L456.79,-11.19 L456.55,-9.88 L456.24,-8.62 L455.88,-7.44 L455.46,-6.35 L454.98,-5.35 L454.46,-4.47 L453.9,-3.7 L453.3,-3.06 L452.68,-2.56 L452.03,-2.19 L451.37,-1.97 L450.7,-1.9 L450.03,-1.97 L449.37,-2.19 L448.72,-2.56 L448.1,-3.06 L447.5,-3.7 L446.94,-4.47 L446.42,-5.35 L445.94,-6.35 L445.52,-7.44 L445.16,-8.62 L444.85,-9.88 L444.61,-11.19 L444.44,-12.55 L444.34,-13.94 L444.3,-15.35 L444.34,-16.76 L444.44,-18.15 L444.61,-19.51 L444.85,-20.82 L445.16,-22.08 L445.52,-23.26 L445.94,-24.35 L446.42,-25.35 L446.94,-26.23 L447.5,-27 L448.1,-27.64 L448.72,-28.14 L449.37,-28.51 L450.03,-28.73 L450.7,-28.8 L451.37,-28.73 L452.03,-28.51 L452.68,-28.14 L453.3,-27.64 L453.9,-27 L454.46,-26.23 L454.98,-25.35 L455.46,-24.35 L455.88,-23.26 L456.24,-22.08 L456.55,-20.82 L456.79,-19.51 L456.96,-18.15 L457.06,-16.76 L457.1,-15.35Z"/><path d="M476.04,-25.95 L475.61,-26.65 L475.15,-27.25 L474.67,-27.76 L474.17,-28.18 L473.65,-28.49 L473.13,-28.69 L472.59,-28.79 L472.06,-28.78 L471.53,-28.67 L471.01,-28.44 L470.49,-28.12 L469.99,-27.69 L469.52,-27.16 L469.06,-26.54 L468.63,-25.83 L468.23,-25.04 L467.86,-24.17 L467.53,-23.23 L467.24,-22.22 L466.99,-21.16 L466.78,-20.06 L466.61,-18.91 L466.5,-17.74 L466.42,-16.55 L466.4,-15.35 L466.42,-14.15 L466.5,-12.96 L466.61,-11.79 L466.78,-10.64 L466.99,-9.54 L467.24,-8.48 L467.53,-7.47 L467.86,-6.53 L468.23,-5.66 L468.63,-4.87 L469.06,-4.16 L469.52,-3.54 L469.99,-3.01 L470.49,-2.58 L471.01,-2.26 L471.53,-2.03 L472.06,-1.92 L472.59,-1.91 L473.13,-2.01 L473.65,-2.21 L474.17,-2.52 L474.67,-2.94 L475.15,-3.45 L475.61,-4.05 L476.04,-4.75"/><path d="M484.2,-47.8 L484.2,0"/><path d="M484.2,-20.5 L484.23,-21.37 L484.33,-22.23 L484.49,-23.06 L484.71,-23.88 L484.99,-24.65 L485.33,-25.38 L485.72,-26.05 L486.15,-26.67 L486.63,-27.21 L487.15,-27.69 L487.7,-28.08 L488.28,-28.39 L488.87,-28.62 L489.48,-28.75 L490.1,-28.8 L490.72,-28.75 L491.33,-28.62 L491.92,-28.39 L492.5,-28.08 L493.05,-27.69 L493.57,-27.21 L494.05,-26.67 L494.48,-26.05 L494.87,-25.38 L495.21,-24.65 L495.49,-23.88 L495.71,-23.06 L495.87,-22.23 L495.97,-21.37 L496,-20.5 L496,0"/><path d="M517.3,-47.8 L517.3,0"/><path d="M517.3,-15.35 L517.27,-13.94 L517.17,-12.55 L517,-11.19 L516.77,-9.88 L516.48,-8.62 L516.14,-7.44 L515.73,-6.35 L515.28,-5.35 L514.79,-4.47 L514.25,-3.7 L513.68,-3.06 L513.09,-2.56 L512.47,-2.19 L511.84,-1.97 L511.2,-1.9 L510.56,-1.97 L509.93,-2.19 L509.31,-2.56 L508.72,-3.06 L508.15,-3.7 L507.61,-4.47 L507.12,-5.35 L506.67,-6.35 L506.26,-7.44 L505.92,-8.62 L505.63,-9.88 L505.4,-11.19 L505.23,-12.55 L505.13,-13.94 L505.1,-15.35 L505.13,-16.76 L505.23,-18.15 L505.4,-19.51 L505.63,-20.82 L505.92,-22.08 L506.26,-23.26 L506.67,-24.35 L507.12,-25.35 L507.61,-26.23 L508.15,-27 L508.72,-27.64 L509.31,-28.14 L509.93,-28.51 L510.56,-28.73 L511.2,-28.8 L511.84,-28.73 L512.47,-28.51 L513.09,-28.14 L513.68,-27.64 L514.25,-27 L514.79,-26.23 L515.28,-25.35 L515.73,-24.35 L516.14,-23.26 L516.48,-22.08 L516.77,-20.82 L517,-19.51 L517.17,-18.15 L517.27,-16.76 L517.3,-15.35Z"/><path d="M528.05,-30.7 L528.05,0"/><path d="M547.34,-25.95 L546.88,-26.65 L546.4,-27.25 L545.89,-27.76 L545.36,-28.18 L544.82,-28.49 L544.27,-28.69 L543.71,-28.79 L543.15,-28.78 L542.59,-28.67 L542.04,-28.44 L541.5,-28.12 L540.98,-27.69 L540.47,-27.16 L539.99,-26.54 L539.54,-25.83 L539.12,-25.04 L538.74,-24.17 L538.39,-23.23 L538.08,-22.22 L537.82,-21.16 L537.6,-20.06 L537.42,-18.91 L537.3,-17.74 L537.23,-16.55 L537.2,-15.35 L537.23,-14.15 L537.3,-12.96 L537.42,-11.79 L537.6,-10.64 L537.82,-9.54 L538.08,-8.48 L538.39,-7.47 L538.74,-6.53 L539.12,-5.66 L539.54,-4.87 L539.99,-4.16 L540.47,-3.54 L540.98,-3.01 L541.5,-2.58 L542.04,-2.26 L542.59,-2.03 L543.15,-1.92 L543.71,-1.91 L544.27,-2.01 L544.82,-2.21 L545.36,-2.52 L545.89,-2.94 L546.4,-3.45 L546.88,-4.05 L547.34,-4.75"/><path d="M554.8,-47.8 L554.8,0"/><path d="M554.8,-20.5 L554.83,-21.37 L554.94,-22.23 L555.1,-23.06 L555.34,-23.88 L555.63,-24.65 L555.98,-25.38 L556.39,-26.05 L556.85,-26.67 L557.36,-27.21 L557.9,-27.69 L558.48,-28.08 L559.08,-28.39 L559.71,-28.62 L560.35,-28.75 L561,-28.8 L561.65,-28.75 L562.29,-28.62 L562.92,-28.39 L563.52,-28.08 L564.1,-27.69 L564.64,-27.21 L565.15,-26.67 L565.61,-26.05 L566.02,-25.38 L566.37,-24.65 L566.66,-23.88 L566.9,-23.06 L567.06,-22.23 L567.17,-21.37 L567.2,-20.5 L567.2,0"/><path d="M578.1,-37.9 L578.1,0"/><path d="M573.3,-28.2 L585,-28.2"/><path d="M589.5,-30.7 L589.5,-12 L589.53,-10.94 L589.64,-9.9 L589.81,-8.88 L590.05,-7.89 L590.35,-6.95 L590.71,-6.06 L591.13,-5.24 L591.6,-4.49 L592.12,-3.83 L592.68,-3.25 L593.27,-2.77 L593.89,-2.39 L594.53,-2.12 L595.19,-1.96 L595.85,-1.9 L596.51,-1.96 L597.17,-2.12 L597.81,-2.39 L598.43,-2.77 L599.03,-3.25 L599.58,-3.83 L600.1,-4.49 L600.57,-5.24 L600.99,-6.06 L601.35,-6.95 L601.65,-7.89 L601.89,-8.88 L602.06,-9.9 L602.17,-10.94 L602.2,-12"/><path d="M602.2,-30.7 L602.2,0"/><path d="M613.1,-30.7 L613.1,0"/><path d="M613.1,-20.5 L613.13,-21.37 L613.23,-22.23 L613.4,-23.06 L613.62,-23.88 L613.91,-24.65 L614.26,-25.38 L614.65,-26.05 L615.1,-26.67 L615.59,-27.21 L616.13,-27.69 L616.69,-28.08 L617.28,-28.39 L617.89,-28.62 L618.52,-28.75 L619.15,-28.8 L619.78,-28.75 L620.41,-28.62 L621.02,-28.39 L621.61,-28.08 L622.18,-27.69 L622.71,-27.21 L623.2,-26.67 L623.65,-26.05 L624.04,-25.38 L624.39,-24.65 L624.68,-23.88 L624.9,-23.06 L625.07,-22.23 L625.17,-21.37 L625.2,-20.5 L625.2,0"/><path d="M646.9,-30.7 L646.9,3 L646.86,3.81 L646.72,4.62 L646.5,5.4 L646.19,6.14 L645.81,6.84 L645.35,7.48 L644.82,8.06 L644.23,8.57 L643.6,9 L642.92,9.34 L642.2,9.59 L641.47,9.74 L640.72,9.8 L639.97,9.76 L639.23,9.62 L638.51,9.39 L637.82,9.07 L637.18,8.65 L636.58,8.16 L636.04,7.59 L635.57,6.96 L635.17,6.27 L634.85,5.53 L634.61,4.76"/><path d="M646.9,-15.35 L646.86,-13.94 L646.76,-12.55 L646.59,-11.19 L646.35,-9.88 L646.04,-8.62 L645.68,-7.44 L645.26,-6.35 L644.78,-5.35 L644.26,-4.47 L643.7,-3.7 L643.1,-3.06 L642.48,-2.56 L641.83,-2.19 L641.17,-1.97 L640.5,-1.9 L639.83,-1.97 L639.17,-2.19 L638.52,-2.56 L637.9,-3.06 L637.3,-3.7 L636.74,-4.47 L636.22,-5.35 L635.74,-6.35 L635.32,-7.44 L634.96,-8.62 L634.65,-9.88 L634.41,-11.19 L634.24,-12.55 L634.14,-13.94 L634.1,-15.35 L634.14,-16.76 L634.24,-18.15 L634.41,-19.51 L634.65,-20.82 L634.96,-22.08 L635.32,-23.26 L635.74,-24.35 L636.22,-25.35 L636.74,-26.23 L637.3,-27 L637.9,-27.64 L638.52,-28.14 L639.17,-28.51 L639.83,-28.73 L640.5,-28.8 L641.17,-28.73 L641.83,-28.51 L642.48,-28.14 L643.1,-27.64 L643.7,-27 L644.26,-26.23 L644.78,-25.35 L645.26,-24.35 L645.68,-23.26 L646.04,-22.08 L646.35,-20.82 L646.59,-19.51 L646.76,-18.15 L646.86,-16.76 L646.9,-15.35Z"/><circle cx="528.05" cy="-39" r="2.9" fill="#231f20" stroke="none"/></g>
<g transform="translate(0,543.6)" fill="none" stroke="#231f20" stroke-width="3.8" stroke-linecap="butt" stroke-linejoin="miter" stroke-miterlimit="6"><path d="M161.7,-32.3 L161.7,-34.8 L161.76,-35.84 L161.95,-36.87 L162.25,-37.86 L162.66,-38.8 L163.19,-39.67 L163.81,-40.46 L164.52,-41.15 L165.3,-41.73 L166.14,-42.19 L167.04,-42.53 L167.96,-42.73 L168.9,-42.8 L169.84,-42.73 L170.76,-42.53 L171.66,-42.19 L172.5,-41.73 L173.28,-41.15 L173.99,-40.46 L174.61,-39.67 L175.14,-38.8 L175.55,-37.86 L175.85,-36.87 L176.04,-35.84 L176.1,-34.8 L176.1,-29.5 L175.5,-26 L174.1,-23 L161.7,-1.9 L178,-1.9"/><path d="M187.8,-5 L183.6,8"/><path d="M221,-16.3 L236.9,-16.3"/><path d="M246.3,-33 L246.3,-35 L246.36,-36.02 L246.55,-37.02 L246.85,-37.98 L247.26,-38.9 L247.79,-39.75 L248.41,-40.52 L249.12,-41.19 L249.9,-41.75 L250.74,-42.21 L251.64,-42.53 L252.56,-42.73 L253.5,-42.8 L254.44,-42.73 L255.36,-42.53 L256.26,-42.21 L257.1,-41.75 L257.88,-41.19 L258.59,-40.52 L259.21,-39.75 L259.74,-38.9 L260.15,-37.98 L260.45,-37.02 L260.64,-36.02 L260.7,-35 L260.64,-33.51 L260.48,-32.05 L260.2,-30.64 L259.82,-29.3 L259.34,-28.06 L258.77,-26.94 L258.12,-25.96 L257.4,-25.13 L256.63,-24.47 L255.81,-23.99 L254.96,-23.7 L254.1,-23.6 L249.8,-23.6"/><path d="M254.1,-23.6 L254.96,-23.48 L255.81,-23.13 L256.63,-22.56 L257.4,-21.76 L258.12,-20.77 L258.77,-19.59 L259.34,-18.24 L259.82,-16.75 L260.2,-15.14 L260.48,-13.45 L260.64,-11.69 L260.7,-9.9 L260.64,-8.86 L260.45,-7.83 L260.15,-6.84 L259.74,-5.9 L259.21,-5.03 L258.59,-4.24 L257.88,-3.55 L257.1,-2.97 L256.26,-2.51 L255.36,-2.17 L254.44,-1.97 L253.5,-1.9 L252.56,-1.97 L251.64,-2.17 L250.74,-2.51 L249.9,-2.97 L249.12,-3.55 L248.41,-4.24 L247.79,-5.03 L247.26,-5.9 L246.85,-6.84 L246.55,-7.83 L246.36,-8.86 L246.3,-9.9 L246.3,-12.3"/><path d="M273,-5 L268.8,8"/><path d="M297.4,-42.8 L284.9,-42.8 L283.6,-22"/><path d="M283.6,-22 L285.56,-23.56 L285.91,-23.98 L286.28,-24.35 L286.67,-24.68 L287.09,-24.97 L287.53,-25.2 L288,-25.4 L288.49,-25.54 L289.03,-25.64 L289.64,-25.69 L290.47,-25.7 L291.09,-25.65 L291.64,-25.56 L292.14,-25.42 L292.61,-25.23 L293.05,-25 L293.47,-24.72 L293.87,-24.4 L294.24,-24.03 L294.59,-23.62 L294.92,-23.16 L295.22,-22.66 L295.5,-22.12 L295.76,-21.54 L295.99,-20.92 L296.2,-20.26 L296.38,-19.56 L296.53,-18.82 L296.66,-18.03 L296.76,-17.2 L296.83,-16.3 L296.88,-15.33 L296.9,-14.18 L296.89,-12.77 L296.86,-11.73 L296.8,-10.81 L296.71,-9.95 L296.59,-9.14 L296.45,-8.38 L296.28,-7.66 L296.09,-6.98 L295.87,-6.34 L295.62,-5.74 L295.36,-5.18 L295.06,-4.66 L294.75,-4.19 L294.41,-3.75 L294.04,-3.37 L293.66,-3.02 L293.25,-2.72 L292.82,-2.47 L292.36,-2.26 L291.87,-2.1 L291.35,-1.99 L290.77,-1.92 L289.98,-1.9 L289.3,-1.93 L288.74,-2.01 L288.22,-2.13 L287.74,-2.3 L287.29,-2.52 L286.86,-2.78 L286.46,-3.09 L286.08,-3.45 L285.72,-3.84 L285.38,-4.29 L285.07,-4.77 L284.78,-5.3 L284.52,-5.87 L284.28,-6.47 L284.07,-7.12"/><path d="M197,-44.7 L215,-44.7 L215,-40.9 L197,-40.9Z" fill="#231f20" stroke="none"/><path d="M197.5,0 L201.7,0 L215,-44.7 L210.8,-44.7Z" fill="#231f20" stroke="none"/></g>
<g transform="translate(0,681)" fill="none" stroke="#231f20" stroke-width="3.8" stroke-linecap="butt" stroke-linejoin="miter" stroke-miterlimit="6"><path d="M227.8,-32.3 L227.8,-34.8 L227.86,-35.84 L228.04,-36.87 L228.34,-37.86 L228.74,-38.8 L229.26,-39.67 L229.86,-40.46 L230.56,-41.15 L231.33,-41.73 L232.15,-42.19 L233.03,-42.53 L233.93,-42.73 L234.85,-42.8 L235.77,-42.73 L236.67,-42.53 L237.55,-42.19 L238.38,-41.73 L239.14,-41.15 L239.84,-40.46 L240.44,-39.67 L240.96,-38.8 L241.36,-37.86 L241.66,-36.87 L241.84,-35.84 L241.9,-34.8 L241.9,-29.5 L241.3,-26 L239.9,-23 L227.8,-1.9 L243.8,-1.9"/><path d="M251.8,-32.3 L251.8,-34.8 L251.86,-35.84 L252.04,-36.87 L252.34,-37.86 L252.75,-38.8 L253.27,-39.67 L253.88,-40.46 L254.58,-41.15 L255.35,-41.73 L256.18,-42.19 L257.06,-42.53 L257.97,-42.73 L258.9,-42.8 L259.83,-42.73 L260.74,-42.53 L261.62,-42.19 L262.45,-41.73 L263.22,-41.15 L263.92,-40.46 L264.53,-39.67 L265.05,-38.8 L265.46,-37.86 L265.76,-36.87 L265.94,-35.84 L266,-34.8 L266,-29.5 L265.4,-26 L264,-23 L251.8,-1.9 L267.9,-1.9"/><path d="M278.2,-5 L274,8"/><path d="M287.7,-33 L287.7,-35 L287.76,-36.02 L287.95,-37.02 L288.26,-37.98 L288.68,-38.9 L289.21,-39.75 L289.84,-40.52 L290.56,-41.19 L291.35,-41.75 L292.21,-42.21 L293.11,-42.53 L294.05,-42.73 L295,-42.8 L295.95,-42.73 L296.89,-42.53 L297.79,-42.21 L298.65,-41.75 L299.44,-41.19 L300.16,-40.52 L300.79,-39.75 L301.32,-38.9 L301.74,-37.98 L302.05,-37.02 L302.24,-36.02 L302.3,-35 L302.24,-33.51 L302.07,-32.05 L301.79,-30.64 L301.4,-29.3 L300.92,-28.06 L300.34,-26.94 L299.68,-25.96 L298.95,-25.13 L298.16,-24.47 L297.33,-23.99 L296.47,-23.7 L295.6,-23.6 L291.2,-23.6"/><path d="M295.6,-23.6 L296.47,-23.48 L297.33,-23.13 L298.16,-22.56 L298.95,-21.76 L299.68,-20.77 L300.34,-19.59 L300.92,-18.24 L301.4,-16.75 L301.79,-15.14 L302.07,-13.45 L302.24,-11.69 L302.3,-9.9 L302.24,-8.86 L302.05,-7.83 L301.74,-6.84 L301.32,-5.9 L300.79,-5.03 L300.16,-4.24 L299.44,-3.55 L298.65,-2.97 L297.79,-2.51 L296.89,-2.17 L295.95,-1.97 L295,-1.9 L294.05,-1.97 L293.11,-2.17 L292.21,-2.51 L291.35,-2.97 L290.56,-3.55 L289.84,-4.24 L289.21,-5.03 L288.68,-5.9 L288.26,-6.84 L287.95,-7.83 L287.76,-8.86 L287.7,-9.9 L287.7,-12.3"/></g>
<g transform="translate(0,594)" fill="none" stroke="#231f20" stroke-width="3.8" stroke-linecap="butt" stroke-linejoin="miter" stroke-miterlimit="6"><path d="M463.8,-5 L459.6,8"/><path d="M488.9,-42.8 L476.3,-42.8 L475,-22"/><path d="M475,-22 L476.98,-23.56 L477.33,-23.98 L477.7,-24.35 L478.1,-24.68 L478.52,-24.97 L478.96,-25.2 L479.43,-25.4 L479.93,-25.54 L480.47,-25.64 L481.09,-25.69 L481.92,-25.7 L482.55,-25.65 L483.1,-25.56 L483.6,-25.42 L484.08,-25.23 L484.53,-25 L484.95,-24.72 L485.35,-24.4 L485.72,-24.03 L486.08,-23.62 L486.41,-23.16 L486.71,-22.66 L486.99,-22.12 L487.25,-21.54 L487.48,-20.92 L487.69,-20.26 L487.87,-19.56 L488.03,-18.82 L488.16,-18.03 L488.26,-17.2 L488.33,-16.3 L488.38,-15.33 L488.4,-14.18 L488.39,-12.77 L488.36,-11.73 L488.29,-10.81 L488.21,-9.95 L488.09,-9.14 L487.95,-8.38 L487.78,-7.66 L487.58,-6.98 L487.36,-6.34 L487.11,-5.74 L486.84,-5.18 L486.55,-4.66 L486.23,-4.19 L485.89,-3.75 L485.52,-3.37 L485.13,-3.02 L484.72,-2.72 L484.29,-2.47 L483.83,-2.26 L483.33,-2.1 L482.81,-1.99 L482.22,-1.92 L481.43,-1.9 L480.74,-1.93 L480.18,-2.01 L479.66,-2.13 L479.17,-2.3 L478.72,-2.52 L478.29,-2.78 L477.88,-3.09 L477.5,-3.45 L477.14,-3.84 L476.8,-4.29 L476.49,-4.77 L476.2,-5.3 L475.93,-5.87 L475.69,-6.47 L475.47,-7.12"/><path d="M449.8,0 L446,0 L446,-40.5 L440.8,-40.5 L440.1,-44.7 L449.8,-44.7Z" fill="#231f20" stroke="none"/></g>
<g transform="translate(0,541.3)" fill="none" stroke="#231f20" stroke-width="3.8" stroke-linecap="butt" stroke-linejoin="miter" stroke-miterlimit="6"><path d="M762.7,-22.35 L762.68,-20.43 L762.62,-18.81 L762.53,-17.29 L762.4,-15.85 L762.23,-14.47 L762.02,-13.16 L761.78,-11.91 L761.51,-10.72 L761.2,-9.6 L760.85,-8.54 L760.48,-7.56 L760.07,-6.64 L759.64,-5.8 L759.17,-5.04 L758.68,-4.35 L758.15,-3.75 L757.61,-3.23 L757.03,-2.79 L756.43,-2.44 L755.8,-2.18 L755.13,-2 L754.39,-1.91 L753.51,-1.91 L752.77,-2 L752.1,-2.18 L751.47,-2.44 L750.87,-2.79 L750.29,-3.23 L749.75,-3.75 L749.22,-4.35 L748.73,-5.04 L748.26,-5.8 L747.83,-6.64 L747.42,-7.56 L747.05,-8.54 L746.7,-9.6 L746.39,-10.72 L746.12,-11.91 L745.88,-13.16 L745.67,-14.47 L745.5,-15.85 L745.37,-17.29 L745.28,-18.81 L745.22,-20.43 L745.2,-22.35 L745.22,-24.27 L745.28,-25.89 L745.37,-27.41 L745.5,-28.85 L745.67,-30.23 L745.88,-31.54 L746.12,-32.79 L746.39,-33.98 L746.7,-35.1 L747.05,-36.16 L747.42,-37.14 L747.83,-38.06 L748.26,-38.9 L748.73,-39.66 L749.22,-40.35 L749.75,-40.95 L750.29,-41.47 L750.87,-41.91 L751.47,-42.26 L752.1,-42.52 L752.77,-42.7 L753.51,-42.79 L754.39,-42.79 L755.13,-42.7 L755.8,-42.52 L756.43,-42.26 L757.03,-41.91 L757.61,-41.47 L758.15,-40.95 L758.68,-40.35 L759.17,-39.66 L759.64,-38.9 L760.07,-38.06 L760.48,-37.14 L760.85,-36.16 L761.2,-35.1 L761.51,-33.98 L761.78,-32.79 L762.02,-31.54 L762.23,-30.23 L762.4,-28.85 L762.53,-27.41 L762.62,-25.89 L762.68,-24.27 L762.7,-22.35Z"/><path d="M784.7,-32.3 L784.7,-34.8 L784.76,-35.84 L784.95,-36.87 L785.25,-37.86 L785.66,-38.8 L786.19,-39.67 L786.81,-40.46 L787.52,-41.15 L788.3,-41.73 L789.14,-42.19 L790.04,-42.53 L790.96,-42.73 L791.9,-42.8 L792.84,-42.73 L793.76,-42.53 L794.66,-42.19 L795.5,-41.73 L796.28,-41.15 L796.99,-40.46 L797.61,-39.67 L798.14,-38.8 L798.55,-37.86 L798.85,-36.87 L799.04,-35.84 L799.1,-34.8 L799.1,-29.5 L798.5,-26 L797.1,-23 L784.7,-1.9 L801,-1.9"/><path d="M811.8,-5 L807.6,8"/><path d="M744.98,0.13 L766.48,-43.77 L763.52,-45.23 L742.02,-1.33Z" fill="#231f20" stroke="none"/><path d="M820.9,-44.7 L838.4,-44.7 L838.4,-40.9 L820.9,-40.9Z" fill="#231f20" stroke="none"/><path d="M821.4,0 L825.6,0 L838.4,-44.7 L834.2,-44.7Z" fill="#231f20" stroke="none"/></g>
<g transform="translate(0,71)" fill="none" stroke="#231f20" stroke-width="3.8" stroke-linecap="butt" stroke-linejoin="miter" stroke-miterlimit="6"><path d="M800.8,-32.3 L800.8,-34.8 L800.86,-35.84 L801.04,-36.87 L801.34,-37.86 L801.76,-38.8 L802.28,-39.67 L802.89,-40.46 L803.6,-41.15 L804.38,-41.73 L805.21,-42.19 L806.1,-42.53 L807.02,-42.73 L807.95,-42.8 L808.88,-42.73 L809.8,-42.53 L810.69,-42.19 L811.53,-41.73 L812.3,-41.15 L813.01,-40.46 L813.62,-39.67 L814.14,-38.8 L814.56,-37.86 L814.86,-36.87 L815.04,-35.84 L815.1,-34.8 L815.1,-29.5 L814.5,-26 L813.1,-23 L800.8,-1.9 L817,-1.9"/><path d="M840,-42.8 L827.4,-42.8 L826.1,-22"/><path d="M826.1,-22 L828.08,-23.56 L828.43,-23.98 L828.8,-24.35 L829.2,-24.68 L829.62,-24.97 L830.06,-25.2 L830.53,-25.4 L831.03,-25.54 L831.57,-25.64 L832.19,-25.69 L833.02,-25.7 L833.65,-25.65 L834.2,-25.56 L834.7,-25.42 L835.18,-25.23 L835.63,-25 L836.05,-24.72 L836.45,-24.4 L836.82,-24.03 L837.18,-23.62 L837.51,-23.16 L837.81,-22.66 L838.09,-22.12 L838.35,-21.54 L838.58,-20.92 L838.79,-20.26 L838.97,-19.56 L839.13,-18.82 L839.26,-18.03 L839.36,-17.2 L839.43,-16.3 L839.48,-15.33 L839.5,-14.18 L839.49,-12.77 L839.46,-11.73 L839.39,-10.81 L839.31,-9.95 L839.19,-9.14 L839.05,-8.38 L838.88,-7.66 L838.68,-6.98 L838.46,-6.34 L838.21,-5.74 L837.94,-5.18 L837.65,-4.66 L837.33,-4.19 L836.99,-3.75 L836.62,-3.37 L836.23,-3.02 L835.82,-2.72 L835.39,-2.47 L834.93,-2.26 L834.43,-2.1 L833.91,-1.99 L833.32,-1.92 L832.53,-1.9 L831.84,-1.93 L831.28,-2.01 L830.76,-2.13 L830.27,-2.3 L829.82,-2.52 L829.39,-2.78 L828.98,-3.09 L828.6,-3.45 L828.24,-3.84 L827.9,-4.29 L827.59,-4.77 L827.3,-5.3 L827.03,-5.87 L826.79,-6.47 L826.57,-7.12"/></g>
<rect x="756.35" y="35.25" width="22.8" height="23.1" fill="none" stroke="#231f20" stroke-width="2.1"/>
<g transform="translate(47.5,381.7) rotate(-90)" fill="none" stroke="#231f20" stroke-width="3.8" stroke-linecap="butt" stroke-linejoin="miter" stroke-miterlimit="6"><path d="M35.9,-32.3 L35.9,-34.8 L35.96,-35.84 L36.14,-36.87 L36.44,-37.86 L36.86,-38.8 L37.38,-39.67 L37.99,-40.46 L38.7,-41.15 L39.47,-41.73 L40.31,-42.19 L41.2,-42.53 L42.12,-42.73 L43.05,-42.8 L43.98,-42.73 L44.9,-42.53 L45.79,-42.19 L46.62,-41.73 L47.4,-41.15 L48.11,-40.46 L48.72,-39.67 L49.24,-38.8 L49.66,-37.86 L49.96,-36.87 L50.14,-35.84 L50.2,-34.8 L50.2,-29.5 L49.6,-26 L48.2,-23 L35.9,-1.9 L52.1,-1.9"/><path d="M59.6,-33 L59.6,-35 L59.66,-36.02 L59.85,-37.02 L60.15,-37.98 L60.56,-38.9 L61.09,-39.75 L61.71,-40.52 L62.42,-41.19 L63.2,-41.75 L64.04,-42.21 L64.94,-42.53 L65.86,-42.73 L66.8,-42.8 L67.74,-42.73 L68.66,-42.53 L69.56,-42.21 L70.4,-41.75 L71.18,-41.19 L71.89,-40.52 L72.51,-39.75 L73.04,-38.9 L73.45,-37.98 L73.75,-37.02 L73.94,-36.02 L74,-35 L73.94,-33.51 L73.78,-32.05 L73.5,-30.64 L73.12,-29.3 L72.64,-28.06 L72.07,-26.94 L71.42,-25.96 L70.7,-25.13 L69.93,-24.47 L69.11,-23.99 L68.26,-23.7 L67.4,-23.6 L63.1,-23.6"/><path d="M67.4,-23.6 L68.26,-23.48 L69.11,-23.13 L69.93,-22.56 L70.7,-21.76 L71.42,-20.77 L72.07,-19.59 L72.64,-18.24 L73.12,-16.75 L73.5,-15.14 L73.78,-13.45 L73.94,-11.69 L74,-9.9 L73.94,-8.86 L73.75,-7.83 L73.45,-6.84 L73.04,-5.9 L72.51,-5.03 L71.89,-4.24 L71.18,-3.55 L70.4,-2.97 L69.56,-2.51 L68.66,-2.17 L67.74,-1.97 L66.8,-1.9 L65.86,-1.97 L64.94,-2.17 L64.04,-2.51 L63.2,-2.97 L62.42,-3.55 L61.71,-4.24 L61.09,-5.03 L60.56,-5.9 L60.15,-6.84 L59.85,-7.83 L59.66,-8.86 L59.6,-9.9 L59.6,-12.3"/><path d="M-0.8,0 L3.2,0 L9,-44 L5,-44Z" fill="#231f20" stroke="none"/><path d="M12.5,0 L16.5,0 L9,-44 L5,-44Z" fill="#231f20" stroke="none"/><path d="M12.5,0 L16.5,0 L24.5,-44 L20.5,-44Z" fill="#231f20" stroke="none"/><path d="M25.2,0 L29.2,0 L24.5,-44 L20.5,-44Z" fill="#231f20" stroke="none"/><path d="M92.4,0 L96.5,0 L109.8,-29.4 L105.7,-29.4Z" fill="#231f20" stroke="none"/><path d="M105.7,0 L109.8,0 L96.5,-29.4 L92.4,-29.4Z" fill="#231f20" stroke="none"/><path d="M137.8,0 L134,0 L134,-40.5 L129.8,-40.5 L129.1,-44.7 L137.8,-44.7Z" fill="#231f20" stroke="none"/></g>
<g transform="translate(487.5,346.9) rotate(-90)" fill="none" stroke="#231f20" stroke-width="3.8" stroke-linecap="butt" stroke-linejoin="miter" stroke-miterlimit="6"><path d="M19.8,-22.35 L19.78,-20.43 L19.72,-18.81 L19.63,-17.29 L19.49,-15.85 L19.32,-14.47 L19.12,-13.16 L18.87,-11.91 L18.59,-10.72 L18.28,-9.6 L17.93,-8.54 L17.55,-7.56 L17.14,-6.64 L16.7,-5.8 L16.23,-5.04 L15.73,-4.35 L15.2,-3.75 L14.65,-3.23 L14.07,-2.79 L13.46,-2.44 L12.82,-2.18 L12.14,-2 L11.4,-1.91 L10.5,-1.91 L9.76,-2 L9.08,-2.18 L8.44,-2.44 L7.83,-2.79 L7.25,-3.23 L6.7,-3.75 L6.17,-4.35 L5.67,-5.04 L5.2,-5.8 L4.76,-6.64 L4.35,-7.56 L3.97,-8.54 L3.62,-9.6 L3.31,-10.72 L3.03,-11.91 L2.78,-13.16 L2.58,-14.47 L2.41,-15.85 L2.27,-17.29 L2.18,-18.81 L2.12,-20.43 L2.1,-22.35 L2.12,-24.27 L2.18,-25.89 L2.27,-27.41 L2.41,-28.85 L2.58,-30.23 L2.78,-31.54 L3.03,-32.79 L3.31,-33.98 L3.62,-35.1 L3.97,-36.16 L4.35,-37.14 L4.76,-38.06 L5.2,-38.9 L5.67,-39.66 L6.17,-40.35 L6.7,-40.95 L7.25,-41.47 L7.83,-41.91 L8.44,-42.26 L9.08,-42.52 L9.76,-42.7 L10.5,-42.79 L11.4,-42.79 L12.14,-42.7 L12.82,-42.52 L13.46,-42.26 L14.07,-41.91 L14.65,-41.47 L15.2,-40.95 L15.73,-40.35 L16.23,-39.66 L16.7,-38.9 L17.14,-38.06 L17.55,-37.14 L17.93,-36.16 L18.28,-35.1 L18.59,-33.98 L18.87,-32.79 L19.12,-31.54 L19.32,-30.23 L19.49,-28.85 L19.63,-27.41 L19.72,-25.89 L19.78,-24.27 L19.8,-22.35Z"/><path d="M42.6,-32.3 L42.6,-34.8 L42.66,-35.84 L42.85,-36.87 L43.15,-37.86 L43.56,-38.8 L44.09,-39.67 L44.71,-40.46 L45.42,-41.15 L46.2,-41.73 L47.04,-42.19 L47.94,-42.53 L48.86,-42.73 L49.8,-42.8 L50.74,-42.73 L51.66,-42.53 L52.56,-42.19 L53.4,-41.73 L54.18,-41.15 L54.89,-40.46 L55.51,-39.67 L56.04,-38.8 L56.45,-37.86 L56.75,-36.87 L56.94,-35.84 L57,-34.8 L57,-29.5 L56.4,-26 L55,-23 L42.6,-1.9 L58.9,-1.9"/><path d="M66.4,-33 L66.4,-35 L66.47,-36.02 L66.66,-37.02 L66.99,-37.98 L67.43,-38.9 L67.99,-39.75 L68.66,-40.52 L69.41,-41.19 L70.25,-41.75 L71.15,-42.21 L72.11,-42.53 L73.09,-42.73 L74.1,-42.8 L75.11,-42.73 L76.09,-42.53 L77.05,-42.21 L77.95,-41.75 L78.79,-41.19 L79.54,-40.52 L80.21,-39.75 L80.77,-38.9 L81.21,-37.98 L81.54,-37.02 L81.73,-36.02 L81.8,-35 L81.74,-33.51 L81.56,-32.05 L81.26,-30.64 L80.85,-29.3 L80.33,-28.06 L79.72,-26.94 L79.02,-25.96 L78.25,-25.13 L77.42,-24.47 L76.54,-23.99 L75.63,-23.7 L74.7,-23.6 L69.9,-23.6"/><path d="M74.7,-23.6 L75.63,-23.48 L76.54,-23.13 L77.42,-22.56 L78.25,-21.76 L79.02,-20.77 L79.72,-19.59 L80.33,-18.24 L80.85,-16.75 L81.26,-15.14 L81.56,-13.45 L81.74,-11.69 L81.8,-9.9 L81.73,-8.86 L81.54,-7.83 L81.21,-6.84 L80.77,-5.9 L80.21,-5.03 L79.54,-4.24 L78.79,-3.55 L77.95,-2.97 L77.05,-2.51 L76.09,-2.17 L75.11,-1.97 L74.1,-1.9 L73.09,-1.97 L72.11,-2.17 L71.15,-2.51 L70.25,-2.97 L69.41,-3.55 L68.66,-4.24 L67.99,-5.03 L67.43,-5.9 L66.99,-6.84 L66.66,-7.83 L66.47,-8.86 L66.4,-9.9 L66.4,-12.3"/><path d="M1.88,0.13 L23.58,-43.77 L20.62,-45.23 L-1.08,-1.33Z" fill="#231f20" stroke="none"/></g>
<g transform="translate(1032.7,370.2) rotate(-90)" fill="none" stroke="#231f20" stroke-width="3.8" stroke-linecap="butt" stroke-linejoin="miter" stroke-miterlimit="6"><path d="M52.9,-32.3 L52.9,-34.8 L52.96,-35.84 L53.14,-36.87 L53.44,-37.86 L53.85,-38.8 L54.37,-39.67 L54.98,-40.46 L55.68,-41.15 L56.45,-41.73 L57.28,-42.19 L58.16,-42.53 L59.07,-42.73 L60,-42.8 L60.93,-42.73 L61.84,-42.53 L62.72,-42.19 L63.55,-41.73 L64.32,-41.15 L65.02,-40.46 L65.63,-39.67 L66.15,-38.8 L66.56,-37.86 L66.86,-36.87 L67.04,-35.84 L67.1,-34.8 L67.1,-29.5 L66.5,-26 L65.1,-23 L52.9,-1.9 L69,-1.9"/><path d="M91.6,-22.35 L91.58,-20.33 L91.54,-18.67 L91.46,-17.13 L91.36,-15.68 L91.22,-14.31 L91.06,-13 L90.87,-11.75 L90.65,-10.58 L90.4,-9.47 L90.12,-8.42 L89.82,-7.45 L89.49,-6.55 L89.14,-5.73 L88.76,-4.98 L88.36,-4.3 L87.94,-3.71 L87.49,-3.2 L87.03,-2.77 L86.53,-2.43 L86.01,-2.17 L85.45,-2 L84.84,-1.91 L84.06,-1.91 L83.45,-2 L82.89,-2.17 L82.37,-2.43 L81.87,-2.77 L81.41,-3.2 L80.96,-3.71 L80.54,-4.3 L80.14,-4.98 L79.76,-5.73 L79.41,-6.55 L79.08,-7.45 L78.78,-8.42 L78.5,-9.47 L78.25,-10.58 L78.03,-11.75 L77.84,-13 L77.68,-14.31 L77.54,-15.68 L77.44,-17.13 L77.36,-18.67 L77.32,-20.33 L77.3,-22.35 L77.32,-24.37 L77.36,-26.03 L77.44,-27.57 L77.54,-29.02 L77.68,-30.39 L77.84,-31.7 L78.03,-32.95 L78.25,-34.12 L78.5,-35.23 L78.78,-36.28 L79.08,-37.25 L79.41,-38.15 L79.76,-38.97 L80.14,-39.72 L80.54,-40.4 L80.96,-40.99 L81.41,-41.5 L81.87,-41.93 L82.37,-42.27 L82.89,-42.53 L83.45,-42.7 L84.06,-42.79 L84.84,-42.79 L85.45,-42.7 L86.01,-42.53 L86.53,-42.27 L87.03,-41.93 L87.49,-41.5 L87.94,-40.99 L88.36,-40.4 L88.76,-39.72 L89.14,-38.97 L89.49,-38.15 L89.82,-37.25 L90.12,-36.28 L90.4,-35.23 L90.65,-34.12 L90.87,-32.95 L91.06,-31.7 L91.22,-30.39 L91.36,-29.02 L91.46,-27.57 L91.54,-26.03 L91.58,-24.37 L91.6,-22.35Z"/><path d="M104,-5 L99.8,8"/><path d="M128.2,-42.8 L115,-42.8 L113.7,-22"/><path d="M113.7,-22 L115.78,-23.56 L116.14,-23.98 L116.53,-24.35 L116.94,-24.68 L117.38,-24.97 L117.85,-25.2 L118.34,-25.4 L118.86,-25.54 L119.43,-25.64 L120.07,-25.69 L120.93,-25.7 L121.59,-25.65 L122.17,-25.56 L122.69,-25.42 L123.19,-25.23 L123.66,-25 L124.1,-24.72 L124.51,-24.4 L124.91,-24.03 L125.27,-23.62 L125.62,-23.16 L125.94,-22.66 L126.23,-22.12 L126.5,-21.54 L126.74,-20.92 L126.96,-20.26 L127.15,-19.56 L127.31,-18.82 L127.44,-18.03 L127.55,-17.2 L127.63,-16.3 L127.68,-15.33 L127.7,-14.18 L127.69,-12.77 L127.66,-11.73 L127.59,-10.81 L127.5,-9.95 L127.38,-9.14 L127.23,-8.38 L127.05,-7.66 L126.85,-6.98 L126.62,-6.34 L126.36,-5.74 L126.08,-5.18 L125.77,-4.66 L125.44,-4.19 L125.08,-3.75 L124.7,-3.37 L124.29,-3.02 L123.86,-2.72 L123.41,-2.47 L122.93,-2.26 L122.41,-2.1 L121.86,-1.99 L121.25,-1.92 L120.43,-1.9 L119.71,-1.93 L119.11,-2.01 L118.57,-2.13 L118.07,-2.3 L117.59,-2.52 L117.14,-2.78 L116.72,-3.09 L116.32,-3.45 L115.94,-3.84 L115.59,-4.29 L115.26,-4.77 L114.96,-5.3 L114.68,-5.87 L114.43,-6.47 L114.21,-7.12"/></g>
<rect x="997.65" y="345.75" width="23.1" height="23.4" fill="none" stroke="#231f20" stroke-width="2.1"/>
</svg>
</body></html>
